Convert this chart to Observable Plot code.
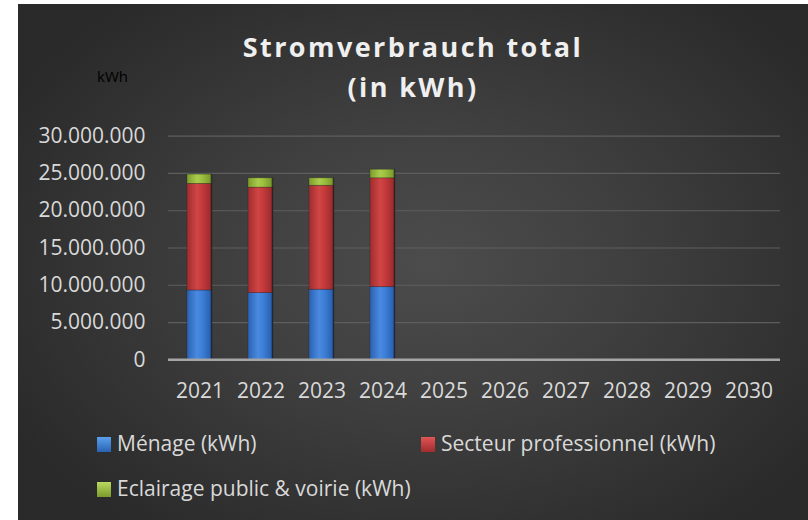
<!DOCTYPE html>
<html><head><meta charset="utf-8">
<script src="https://cdn.jsdelivr.net/npm/d3@7"></script>
<script src="https://cdn.jsdelivr.net/npm/@observablehq/plot@0.6"></script>
<style>
html,body{margin:0;padding:0;background:#fff;}
body{width:808px;height:520px;position:relative;overflow:hidden;font-family:"Open Sans",sans-serif;}
#panel{position:absolute;left:18px;top:4px;width:790px;height:516px;overflow:hidden;
  background:radial-gradient(ellipse 60% 65% at 52% 50%, #4c4c4c 0%, #404040 40%, #2a2a2a 100%);}
#chart{position:absolute;left:0;top:0;}
#title{position:absolute;left:0;width:790px;top:23px;text-align:center;color:#efefef;font-weight:700;font-size:27px;letter-spacing:2.4px;line-height:40px;}
#unit{position:absolute;left:79px;top:62px;color:#000;font-size:15px;}
.leg{position:absolute;color:#d9d9d9;font-size:21px;line-height:21px;white-space:nowrap;}
.sw{position:absolute;width:14px;height:15px;}
</style></head>
<body>
<div id="panel">
  <div id="chart"></div>
  <div id="title">Stromverbrauch total<br>(in kWh)</div>
  <div id="unit">kWh</div>
  <div id="legend"></div>
</div>
<script>
const years = ["2021","2022","2023","2024","2025","2026","2027","2028","2029","2030"];
const seriesNames = ["Ménage (kWh)", "Secteur professionnel (kWh)", "Eclairage public & voirie (kWh)"];
const menage    = [9300000, 8950000, 9400000, 9750000];
const secteur   = [14300000, 14150000, 13950000, 14600000];
const eclairage = [1250000, 1250000, 1000000, 1150000];
const yTicks = [0, 5000000, 10000000, 15000000, 20000000, 25000000, 30000000];

const seriesValues = [menage, secteur, eclairage];
const data = [];
seriesNames.forEach((s, i) => {
  seriesValues[i].forEach((v, j) => data.push({year: years[j], series: s, value: v}));
});

const fmt = d3.formatLocale({decimal: ",", thousands: ".", grouping: [3], currency: ["", " €"]}).format(",");

const svg = Plot.plot({
  width: 790,
  height: 400,
  marginLeft: 150,
  marginRight: 28,
  marginTop: 131.7,
  marginBottom: 44.7,
  style: {background: "transparent", color: "#d9d9d9", fontSize: "21px", fontFamily: "'Open Sans', sans-serif", overflow: "visible"},
  x: {domain: years, paddingInner: 0.59, paddingOuter: 0.295, label: null},
  y: {domain: [0, 30000000], label: null},
  color: {domain: seriesNames, range: ["url(#gBlue)", "url(#gRed)", "url(#gGreen)"]},
  marks: [
    Plot.gridY(yTicks, {stroke: "#5e5e5e", strokeOpacity: 1, strokeWidth: 1.2}),
    Plot.barY(data, {x: "year", y: "value", fill: "series", stroke: "#1c1c1c", strokeOpacity: 0.35, strokeWidth: 0.8}),
    Plot.ruleY([0], {stroke: "#a6a6a6", strokeWidth: 2.5}),
    Plot.axisY({ticks: yTicks, tickSize: 0, tickPadding: 23, tickFormat: fmt, label: null}),
    Plot.axisX({tickSize: 0, tickPadding: 23, label: null})
  ]
});

const defs = d3.select(svg).insert("defs", ":first-child");
function grad(id, edge, mid, light) {
  const g = defs.append("linearGradient").attr("id", id).attr("x1", 0).attr("x2", 1).attr("y1", 0).attr("y2", 0);
  g.append("stop").attr("offset", "0%").attr("stop-color", edge);
  g.append("stop").attr("offset", "40%").attr("stop-color", light);
  g.append("stop").attr("offset", "60%").attr("stop-color", mid);
  g.append("stop").attr("offset", "92%").attr("stop-color", edge);
  g.append("stop").attr("offset", "100%").attr("stop-color", "#1a1a1a");
}
grad("gBlue", "#2a62b3", "#3d80d8", "#4a8ae0");
grad("gRed", "#a02c2e", "#c63a3b", "#d04545");
grad("gGreen", "#7c9c2c", "#9dc03f", "#aacb4c");
document.getElementById("chart").appendChild(svg);

const legendColors = ["linear-gradient(#5aa0ee,#2a62b3)", "linear-gradient(#e05555,#a02c2e)", "linear-gradient(#b8d860,#7c9c2c)"];
const legendPos = [[79, 433], [403, 433], [79, 478]];
const leg = document.getElementById("legend");
seriesNames.forEach((s, i) => {
  const [x, y] = legendPos[i];
  const sw = document.createElement("div");
  sw.className = "sw";
  sw.style.left = x + "px";
  sw.style.top = y + "px";
  sw.style.background = legendColors[i];
  leg.appendChild(sw);
  const t = document.createElement("div");
  t.className = "leg";
  t.style.left = (x + 20) + "px";
  t.style.top = (y - 4) + "px";
  t.textContent = s;
  leg.appendChild(t);
});
</script>
</body></html>
